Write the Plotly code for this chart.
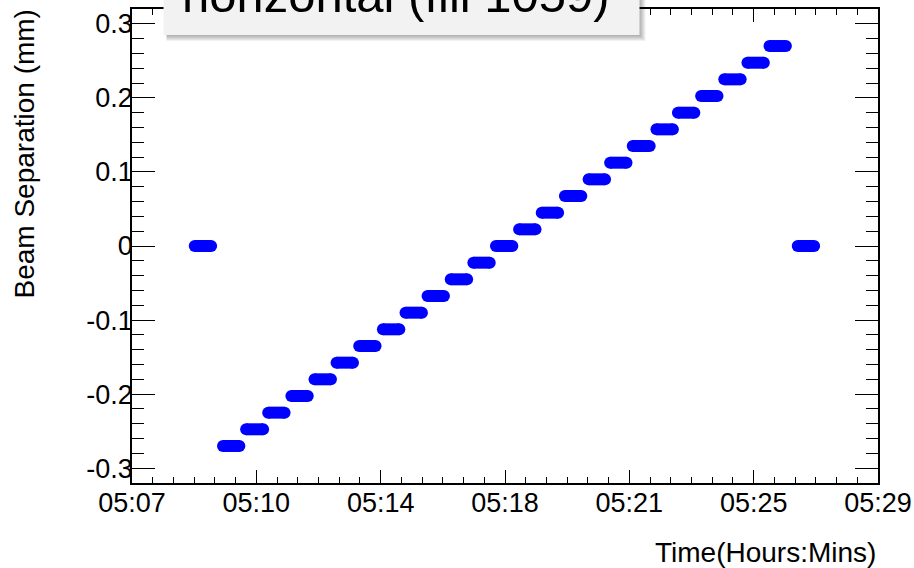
import plotly.graph_objects as go

# ---------------- data ----------------
BASE_DATE = "2010-05-01"

step_start = ["05:08:57", "05:09:47", "05:10:28", "05:11:07", "05:11:48", "05:12:29",
              "05:13:08", "05:13:48", "05:14:30", "05:15:10", "05:15:49", "05:16:30",
              "05:17:10", "05:17:50", "05:18:31", "05:19:11", "05:19:52", "05:20:34",
              "05:21:12", "05:21:52", "05:22:34", "05:23:12", "05:23:53", "05:24:34",
              "05:25:15", "05:25:54", "05:26:44"]
step_end = ["05:09:26", "05:10:16", "05:10:58", "05:11:36", "05:12:17", "05:12:58",
            "05:13:37", "05:14:17", "05:14:59", "05:15:39", "05:16:18", "05:16:59",
            "05:17:39", "05:18:19", "05:19:00", "05:19:40", "05:20:21", "05:21:03",
            "05:21:41", "05:22:22", "05:23:03", "05:23:41", "05:24:22", "05:25:03",
            "05:25:44", "05:26:23", "05:27:13"]
step_value = [0.0, -0.270, -0.2475, -0.225, -0.2025, -0.180, -0.1575, -0.135, -0.1125,
              -0.090, -0.0675, -0.045, -0.0225, 0.0, 0.0225, 0.045, 0.0675, 0.090,
              0.1125, 0.135, 0.1575, 0.180, 0.2025, 0.225, 0.2475, 0.270, 0.0]

x_range = ["05:07:06", "05:29:06"]
x_tick_times = ["05:07:06", "05:10:46", "05:14:26", "05:18:06", "05:21:46", "05:25:26", "05:29:06"]
x_tick_text = ["05:07", "05:10", "05:14", "05:18", "05:21", "05:25", "05:29"]
x_minor_step_ms = 220000 / 6

y_range = [-0.32, 0.32]
y_tick_vals = [-0.3, -0.2, -0.1, 0.0, 0.1, 0.2, 0.3]
y_tick_text = ["-0.3", "-0.2", "-0.1", "0", "0.1", "0.2", "0.3"]

title_text = "horizontal (fill 1059)"
y_title = "Beam Separation (mm)"
x_title = "Time(Hours:Mins)"

# ---------------- figure ----------------
def ts(hms):
    return f"{BASE_DATE} {hms}"

xs, ys = [], []
for s, e, v in zip(step_start, step_end, step_value):
    xs += [ts(s), ts(e), None]
    ys += [v, v, None]

W, H = 914, 568
ML, MR, MT, MB = 132, 36, 9, 85
PW, PH = W - ML - MR, H - MT - MB

def px_x(px):
    return (px - ML) / PW

def px_y(py):
    return (H - MB - py) / PH

FONT = "Liberation Sans, Arial, Helvetica, sans-serif"
BLUE = "#0000ff"

fig = go.Figure()
fig.add_trace(go.Scatter(
    x=xs, y=ys, mode="lines+markers",
    line=dict(color=BLUE, width=12),
    marker=dict(color=BLUE, size=12, symbol="circle", line=dict(width=0)),
    connectgaps=False, showlegend=False, hoverinfo="skip",
))

shapes = []
# shadow of title box
bx0, bx1, by0 = 163.5, 639.5, 35.0
for k in range(1, 7):
    shapes.append(dict(type="rect", xref="paper", yref="paper",
                       x0=px_x(bx0 + 3), x1=px_x(bx1 + k), y0=px_y(by0 + k), y1=px_y(-30),
                       fillcolor="rgba(0,0,0,0.055)", line=dict(width=0), layer="above"))
shapes.append(dict(type="rect", xref="paper", yref="paper",
                   x0=px_x(bx0), x1=px_x(bx1), y0=px_y(by0), y1=px_y(-30),
                   fillcolor="#f2f2f2", line=dict(width=0), layer="above"))

annotations = [
    dict(text=title_text, xref="paper", yref="paper", x=px_x(396), y=px_y(22.5),
         xanchor="center", yanchor="bottom", showarrow=False,
         font=dict(family=FONT, size=49, color="#000000"), borderpad=0),
    dict(text=y_title, xref="paper", yref="paper", x=px_x(23.5), y=px_y(154),
         xanchor="center", yanchor="middle", textangle=-90, showarrow=False,
         font=dict(family=FONT, size=28, color="#000000"), borderpad=0),
    dict(text=x_title, xref="paper", yref="paper", x=px_x(877), y=px_y(552),
         xanchor="right", yanchor="middle", showarrow=False,
         font=dict(family=FONT, size=28, color="#000000"), borderpad=0),
]

fig.update_layout(
    width=W, height=H,
    margin=dict(l=ML, r=MR, t=MT, b=MB, pad=0, autoexpand=False),
    paper_bgcolor="white", plot_bgcolor="white",
    font=dict(family=FONT, size=27, color="#000000"),
    shapes=shapes, annotations=annotations,
    showlegend=False,
)

fig.update_xaxes(
    type="date", range=[ts(x_range[0]), ts(x_range[1])], automargin=False,
    tickmode="array", tickvals=[ts(t) for t in x_tick_times], ticktext=x_tick_text,
    ticks="inside", ticklen=13, tickwidth=1, tickcolor="black", ticklabelstandoff=-5,
    minor=dict(tickmode="linear", tick0=ts(x_range[0]), dtick=x_minor_step_ms,
               ticks="inside", ticklen=6.5, tickwidth=1, tickcolor="black", showgrid=False),
    showline=True, linecolor="black", linewidth=1.5, mirror="allticks",
    showgrid=False, zeroline=False,
    tickfont=dict(family=FONT, size=27, color="#000000"),
)
fig.update_yaxes(
    range=y_range, automargin=False,
    tickmode="array", tickvals=y_tick_vals, ticktext=y_tick_text,
    ticks="inside", ticklen=23, tickwidth=1, tickcolor="black", ticklabelstandoff=-8,
    minor=dict(tickmode="linear", tick0=0, dtick=0.02,
               ticks="inside", ticklen=12, tickwidth=1, tickcolor="black", showgrid=False),
    showline=True, linecolor="black", linewidth=1.5, mirror="allticks",
    showgrid=False, zeroline=False,
    tickfont=dict(family=FONT, size=27, color="#000000"),
)

fig.write_html("out.html", config={"displayModeBar": False},
               post_script="document.body.style.margin='0px';")
